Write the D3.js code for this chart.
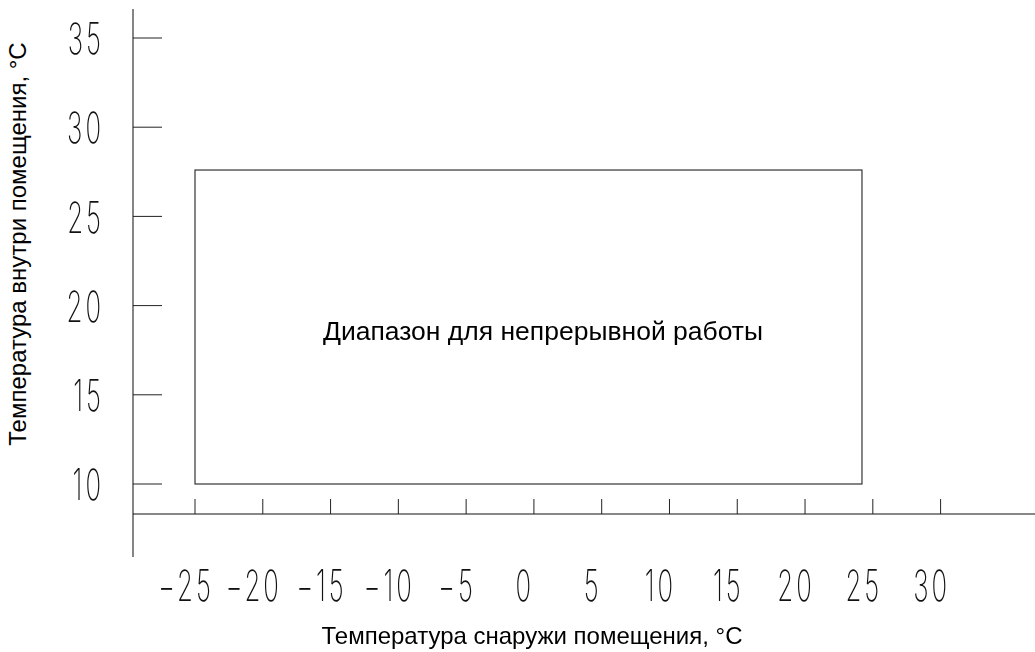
<!DOCTYPE html>
<html>
<head>
<meta charset="utf-8">
<script src="https://cdn.jsdelivr.net/npm/d3@7"></script>
<style>
  body { margin: 0; background: #fff; }
  .tick-label { font-family: Inter, "DejaVu Sans", sans-serif; font-weight: 200; font-size: 43px; fill: #111; letter-spacing: 5px; }
  .labels { opacity: 0.995; }
  .title { font-family: "Liberation Sans", Arial, sans-serif; font-size: 24px; fill: #000; }
</style>
</head>
<body>
<div id="chart"></div>
<script>
// tick values on both axes
const xTicks = [-25, -20, -15, -10, -5, 0, 5, 10, 15, 20, 25, 30];
const yTicks = [10, 15, 20, 25, 30, 35];

// continuous operation range: outdoor [min, max], indoor [min, max]
const outdoorRange = [-25, 24.2];
const indoorRange = [10, 27.6];
const regionLabel = "Диапазон для непрерывной работы";

const xTitle = "Температура снаружи помещения, °C";
const yTitle = "Температура внутри помещения, °C";

const width = 1035, height = 652;

const svg = d3.select("#chart")
    .append("svg")
    .attr("width", width)
    .attr("height", height);

const x = d3.scaleLinear().domain([-25, 30]).range([195, 940.6]);
const y = d3.scaleLinear().domain([10, 35]).range([484, 38]);

const originX = 133, originY = 514;

// axis lines
svg.append("line")
    .attr("x1", originX).attr("x2", originX)
    .attr("y1", 9).attr("y2", 557)
    .attr("stroke", "#333").attr("stroke-width", 1.2);

svg.append("line")
    .attr("x1", originX).attr("x2", width)
    .attr("y1", originY).attr("y2", originY)
    .attr("stroke", "#111").attr("stroke-width", 1.2);

// x ticks (pointing up)
svg.selectAll(".xtick").data(xTicks).enter()
    .append("line")
    .attr("class", "xtick")
    .attr("x1", d => x(d)).attr("x2", d => x(d))
    .attr("y1", originY).attr("y2", originY - 15)
    .attr("stroke", "#222");

// y ticks (pointing right)
svg.selectAll(".ytick").data(yTicks).enter()
    .append("line")
    .attr("class", "ytick")
    .attr("x1", originX).attr("x2", originX + 29)
    .attr("y1", d => y(d)).attr("y2", d => y(d))
    .attr("stroke", "#222");

const labels = svg.append("g").attr("class", "labels");

labels.selectAll(".xlab").data(xTicks).enter()
    .append("text")
    .attr("class", "tick-label")
    .attr("text-anchor", "middle")
    .attr("dominant-baseline", "central")
    .attr("transform", d => `translate(${x(d) - 9}, 586) scale(0.6, 1)`)
    .text(d => d < 0 ? "−" + Math.abs(d) : d);

labels.selectAll(".ylab").data(yTicks).enter()
    .append("text")
    .attr("class", "tick-label")
    .attr("text-anchor", "end")
    .attr("dominant-baseline", "central")
    .attr("transform", d => `translate(104, ${y(d) + 1}) scale(0.6, 1)`)
    .text(d => d);

// operating range box
svg.append("rect")
    .attr("x", x(outdoorRange[0]))
    .attr("y", y(indoorRange[1]))
    .attr("width", x(outdoorRange[1]) - x(outdoorRange[0]))
    .attr("height", y(indoorRange[0]) - y(indoorRange[1]))
    .attr("fill", "none")
    .attr("stroke", "#333")
    .attr("stroke-width", 1.2);

svg.append("text")
    .attr("class", "title")
    .attr("x", 543)
    .attr("y", 340)
    .attr("text-anchor", "middle")
    .style("font-size", "26.5px")
    .text(regionLabel);

// axis titles
svg.append("text")
    .attr("class", "title")
    .attr("x", 532)
    .attr("y", 644)
    .attr("text-anchor", "middle")
    .text(xTitle);

svg.append("text")
    .attr("class", "title")
    .attr("transform", "translate(26, 244) rotate(-90)")
    .attr("text-anchor", "middle")
    .text(yTitle);
</script>
</body>
</html>
